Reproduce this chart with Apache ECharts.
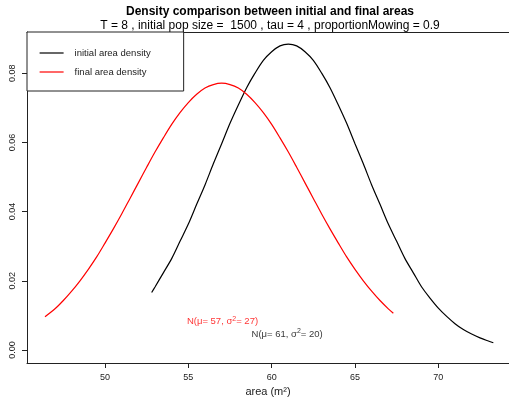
<!DOCTYPE html>
<html>
<head>
<meta charset="utf-8">
<script src="https://cdn.jsdelivr.net/npm/echarts@6/dist/echarts.min.js"></script>
<style>
  html, body { margin: 0; padding: 0; background: #fff; }
  #chart { width: 509px; height: 403px; }
</style>
</head>
<body>
<div id="chart"></div>
<script>
// values
var initialX = [52.8, 53, 53.5, 54, 54.5, 55, 55.5, 56, 56.5, 57, 57.5, 58, 58.5, 59, 59.5, 60, 60.5, 61,
  61.5, 62, 62.5, 63, 63.5, 64, 64.5, 65, 65.5, 66, 66.5, 67, 67.5, 68, 68.5, 69, 69.5, 70, 70.5, 71, 71.5, 72, 72.5, 73, 73.3];
var initialY = [0.0166, 0.0182, 0.0223, 0.0264, 0.0314, 0.0364, 0.0421, 0.0477, 0.0538, 0.0596, 0.0655, 0.0708,
  0.0758, 0.0800, 0.0837, 0.0862, 0.0879, 0.0884, 0.0879, 0.0862, 0.0837, 0.0800, 0.0758, 0.0708, 0.0655, 0.0596,
  0.0538, 0.0477, 0.0421, 0.0364, 0.0314, 0.0264, 0.0223, 0.0182, 0.0150, 0.0121, 0.0097, 0.0076, 0.0059, 0.0046,
  0.0035, 0.0026, 0.0021];

var finalX = [46.4, 47, 47.5, 48, 48.5, 49, 49.5, 50, 50.5, 51, 51.5, 52, 52.5, 53, 53.5, 54, 54.5, 55, 55.5, 56,
  56.5, 57, 57.5, 58, 58.5, 59, 59.5, 60, 60.5, 61, 61.5, 62, 62.5, 63, 63.5, 64, 64.5, 65, 65.5, 66, 66.5, 67, 67.3];
var finalY = [0.0096, 0.0119, 0.0143, 0.0170, 0.0200, 0.0233, 0.0269, 0.0309, 0.0350, 0.0393, 0.0438, 0.0483,
  0.0528, 0.0572, 0.0613, 0.0652, 0.0686, 0.0715, 0.0739, 0.0757, 0.0767, 0.0771, 0.0767, 0.0757, 0.0739, 0.0715,
  0.0686, 0.0652, 0.0613, 0.0572, 0.0528, 0.0483, 0.0438, 0.0393, 0.0350, 0.0309, 0.0269, 0.0233, 0.0200, 0.0170,
  0.0143, 0.0119, 0.0106];

var xTicks = [50, 55, 60, 65, 70];
var yTicks = [0, 0.02, 0.04, 0.06, 0.08];

var seriesNames = ['initial area density', 'final area density'];
var noteText = ['N(μ= 61, σ{s|2}= 20)', 'N(μ= 57, σ{s|2}= 27)'];
var notePos = [[60.93, 0.0046], [57.05, 0.0082]];

var FONT = '"Liberation Sans", Arial, sans-serif';

function pairs(xs, ys) {
  var out = [];
  for (var i = 0; i < xs.length; i++) out.push([xs[i], ys[i]]);
  return out;
}

function note(i, color) {
  return {
    type: 'scatter',
    data: [notePos[i]],
    symbolSize: 1,
    itemStyle: { color: 'rgba(0,0,0,0)' },
    silent: true,
    z: 5,
    label: {
      show: true,
      position: 'inside',
      formatter: noteText[i],
      color: color,
      fontFamily: FONT,
      fontSize: 9.5,
      rich: {
        s: { fontSize: 7, verticalAlign: 'top', padding: [0, 0, 6, 0], color: color, fontFamily: FONT }
      }
    }
  };
}

var chart = echarts.init(document.getElementById('chart'));
chart.setOption({
  animation: false,
  backgroundColor: '#fff',
  grid: { left: 27, right: 0, top: 32, bottom: 40 },
  graphic: [
    { type: 'text', x: 270, y: 12, style: { text: 'Density comparison between initial and final areas',
      fontFamily: FONT, fontSize: 12, fontWeight: 'bold', fill: '#000', textAlign: 'center', textVerticalAlign: 'middle' } },
    { type: 'text', x: 270, y: 26, style: { text: 'T = 8 , initial pop size =  1500 , tau = 4 , proportionMowing = 0.9',
      fontFamily: FONT, fontSize: 12, fill: '#000', textAlign: 'center', textVerticalAlign: 'middle' } }
  ],
  legend: {
    data: seriesNames,
    orient: 'vertical',
    left: 27,
    top: 32,
    padding: [16, 33, 14, 12],
    itemWidth: 24,
    itemHeight: 12,
    itemGap: 9,
    borderColor: '#222',
    borderWidth: 1,
    backgroundColor: '#fff',
    itemStyle: { opacity: 0 },
    lineStyle: { width: 1.2 },
    textStyle: { fontFamily: FONT, fontSize: 9.5, color: '#222', padding: [0, 0, 0, 6] },
    z: 10
  },
  xAxis: [{
    type: 'value',
    min: 45.32,
    max: 74.24,
    name: 'area (m²)',
    nameLocation: 'middle',
    nameGap: 21,
    nameTextStyle: { fontFamily: FONT, fontSize: 11, color: '#222' },
    splitLine: { show: false },
    axisLine: { show: true, onZero: false, lineStyle: { color: '#222', width: 1 } },
    axisTick: { show: true, length: 5, customValues: xTicks, lineStyle: { color: '#222' } },
    axisLabel: { customValues: xTicks, margin: 10, fontFamily: FONT, fontSize: 9, color: '#222' }
  }, {
    type: 'value',
    position: 'top',
    min: 45.32,
    max: 74.24,
    splitLine: { show: false },
    axisLine: { show: true, onZero: false, lineStyle: { color: '#222', width: 1 } },
    axisTick: { show: false },
    axisLabel: { show: false }
  }],
  yAxis: {
    type: 'value',
    min: -0.00376,
    max: 0.0919,
    splitLine: { show: false },
    axisLine: { show: true, onZero: false, lineStyle: { color: '#222', width: 1 } },
    axisTick: { show: true, length: 5, customValues: yTicks, lineStyle: { color: '#222' } },
    axisLabel: {
      customValues: yTicks, rotate: 90, margin: 10, fontFamily: FONT, fontSize: 9, color: '#222',
      formatter: function (v) { return v.toFixed(2); }
    }
  },
  series: [{
    name: seriesNames[0],
    type: 'line',
    data: pairs(initialX, initialY),
    smooth: 0.3,
    symbol: 'none',
    lineStyle: { color: '#000', width: 1.2 },
    itemStyle: { color: '#000' }
  }, {
    name: seriesNames[1],
    type: 'line',
    data: pairs(finalX, finalY),
    smooth: 0.3,
    symbol: 'none',
    lineStyle: { color: '#ff0000', width: 1.2 },
    itemStyle: { color: '#ff0000' }
  }, note(0, '#000'), note(1, '#ff0000')]
});
</script>
</body>
</html>
